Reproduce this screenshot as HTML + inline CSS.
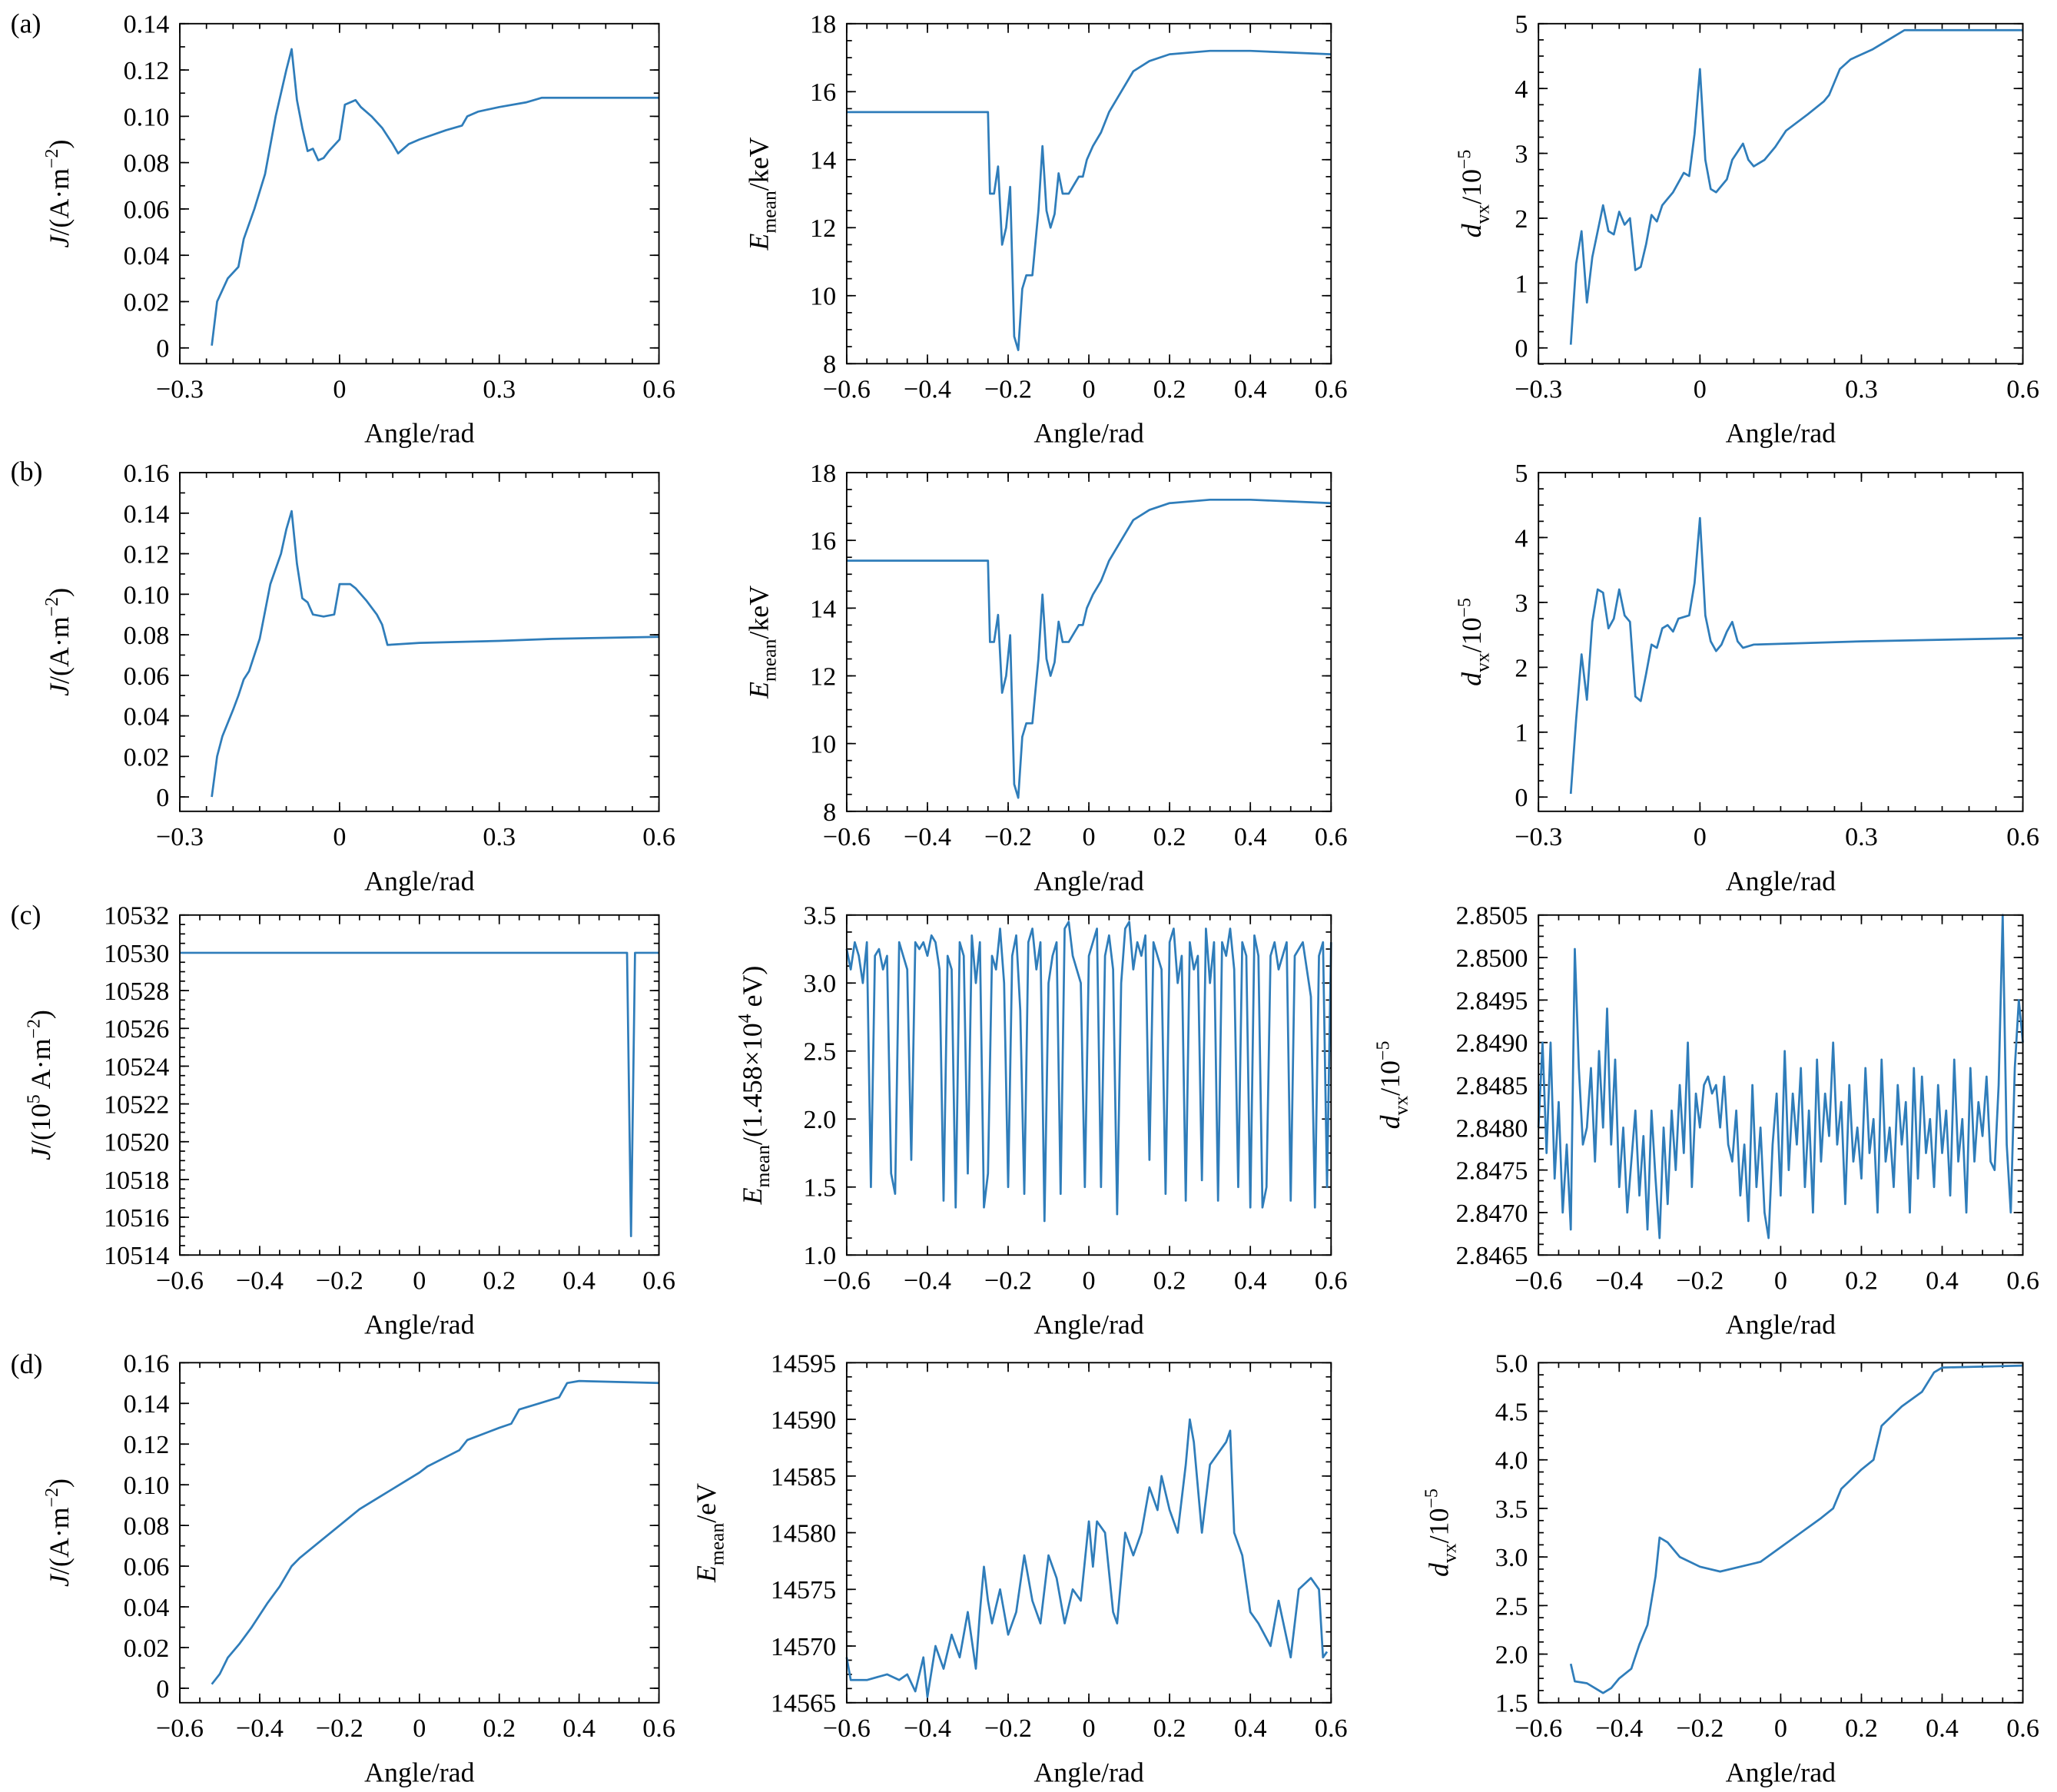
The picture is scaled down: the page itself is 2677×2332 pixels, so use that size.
<!DOCTYPE html>
<html><head><meta charset="utf-8"><style>
html,body{margin:0;padding:0;background:#fff;}
svg{display:block;}
text{font-family:"Liberation Serif","DejaVu Serif",serif;fill:#000;}
</style></head>
<body>
<svg id="fig" xmlns="http://www.w3.org/2000/svg" width="2677" height="2332" viewBox="0 0 1567 1365">
<rect width="1567" height="1365" fill="#fff"/>
</svg>
<script>
// ---------- DATA ----------
const a1X=[-0.24,-0.23,-0.21,-0.19,-0.18,-0.16,-0.14,-0.12,-0.11,-0.1,-0.09,-0.08,-0.07,-0.06,-0.05,-0.04,-0.03,-0.02,0,0.01,0.02,0.03,0.04,0.06,0.08,0.1,0.11,0.13,0.15,0.2,0.23,0.24,0.26,0.3,0.35,0.38,0.45,0.6];
const a1Y=[0.001,0.02,0.03,0.035,0.047,0.06,0.075,0.1,0.11,0.12,0.129,0.107,0.095,0.085,0.086,0.081,0.082,0.085,0.09,0.105,0.106,0.107,0.104,0.1,0.095,0.088,0.084,0.088,0.09,0.094,0.096,0.1,0.102,0.104,0.106,0.108,0.108,0.108];
const eX=[-0.6,-0.25,-0.245,-0.235,-0.225,-0.215,-0.205,-0.195,-0.185,-0.175,-0.165,-0.155,-0.14,-0.125,-0.115,-0.105,-0.095,-0.085,-0.075,-0.065,-0.05,-0.035,-0.025,-0.015,-0.005,0.01,0.03,0.05,0.08,0.11,0.15,0.2,0.3,0.4,0.5,0.6];
const eY=[15.4,15.4,13.0,13.0,13.8,11.5,12.0,13.2,8.8,8.4,10.2,10.6,10.6,12.5,14.4,12.5,12.0,12.4,13.6,13.0,13.0,13.3,13.5,13.5,14.0,14.4,14.8,15.4,16.0,16.6,16.9,17.1,17.2,17.2,17.15,17.1];
const a3X=[-0.24,-0.23,-0.22,-0.21,-0.2,-0.19,-0.18,-0.17,-0.16,-0.15,-0.14,-0.13,-0.12,-0.11,-0.1,-0.09,-0.08,-0.07,-0.06,-0.05,-0.04,-0.03,-0.02,-0.01,0,0.01,0.02,0.03,0.05,0.06,0.08,0.09,0.1,0.12,0.14,0.16,0.2,0.23,0.24,0.26,0.28,0.32,0.36,0.38,0.5,0.6];
const a3Y=[0.05,1.3,1.8,0.7,1.4,1.8,2.2,1.8,1.75,2.1,1.9,2.0,1.2,1.25,1.6,2.05,1.95,2.2,2.3,2.4,2.55,2.7,2.65,3.3,4.3,2.9,2.45,2.4,2.6,2.9,3.15,2.9,2.8,2.9,3.1,3.35,3.6,3.8,3.9,4.3,4.45,4.6,4.8,4.9,4.9,4.9];
const b1X=[-0.24,-0.23,-0.22,-0.2,-0.19,-0.18,-0.17,-0.15,-0.13,-0.11,-0.1,-0.09,-0.08,-0.07,-0.06,-0.05,-0.03,-0.01,0,0.02,0.03,0.05,0.07,0.08,0.09,0.15,0.3,0.4,0.6];
const b1Y=[0,0.02,0.03,0.043,0.05,0.058,0.062,0.078,0.105,0.12,0.132,0.141,0.115,0.098,0.096,0.09,0.089,0.09,0.105,0.105,0.103,0.097,0.09,0.085,0.075,0.076,0.077,0.078,0.079];
const b3X=[-0.24,-0.23,-0.22,-0.21,-0.2,-0.19,-0.18,-0.17,-0.16,-0.15,-0.14,-0.13,-0.12,-0.11,-0.1,-0.09,-0.08,-0.07,-0.06,-0.05,-0.04,-0.02,-0.01,0,0.01,0.02,0.03,0.04,0.05,0.06,0.07,0.08,0.1,0.3,0.6];
const b3Y=[0.05,1.2,2.2,1.5,2.7,3.2,3.15,2.6,2.75,3.2,2.8,2.7,1.55,1.48,1.9,2.35,2.3,2.6,2.65,2.55,2.75,2.8,3.3,4.3,2.8,2.4,2.25,2.35,2.55,2.7,2.4,2.3,2.35,2.4,2.45];
const c1X=[-0.6,0.52,0.53,0.54,0.6];
const c1Y=[10530,10530,10515,10530,10530];
const c2Y=[3.25,3.1,3.3,3.2,3.0,3.3,1.5,3.2,3.25,3.1,3.2,1.6,1.45,3.3,3.2,3.1,1.7,3.3,3.25,3.3,3.2,3.35,3.3,3.1,1.4,3.2,3.1,1.35,3.3,3.2,1.6,3.35,3.0,3.3,1.35,1.6,3.2,3.1,3.4,3.0,1.5,3.2,3.35,2.8,1.45,3.3,3.4,3.1,3.3,1.25,3.0,3.2,3.3,1.45,3.4,3.45,3.2,3.1,3.0,1.5,3.2,3.3,3.4,1.5,3.2,3.35,3.1,1.3,3.0,3.4,3.45,3.1,3.3,3.2,3.35,1.7,3.3,3.2,3.1,1.45,3.3,3.4,3.0,3.2,1.4,3.3,3.1,3.2,1.55,3.4,3.0,3.3,1.4,3.3,3.2,3.4,3.1,1.5,3.3,3.2,1.35,3.35,3.2,1.35,1.5,3.2,3.3,3.1,3.2,3.3,1.4,3.2,3.25,3.3,3.1,2.9,1.35,3.2,3.3,1.5,3.3];
const c3Y=[2.8480,2.8490,2.8477,2.8490,2.8474,2.8483,2.8470,2.8478,2.8468,2.8501,2.8487,2.8478,2.8480,2.8487,2.8476,2.8489,2.8480,2.8494,2.8478,2.8488,2.8473,2.8480,2.8470,2.8476,2.8482,2.8472,2.8479,2.8468,2.8482,2.8474,2.8467,2.8480,2.8471,2.8482,2.8475,2.8485,2.8477,2.8490,2.8473,2.8484,2.8480,2.8485,2.8486,2.8484,2.8485,2.8480,2.8486,2.8478,2.8476,2.8482,2.8472,2.8478,2.8469,2.8485,2.8473,2.8480,2.8470,2.8467,2.8478,2.8484,2.8472,2.8489,2.8475,2.8484,2.8478,2.8487,2.8473,2.8482,2.8470,2.8488,2.8476,2.8484,2.8479,2.8490,2.8478,2.8483,2.8471,2.8485,2.8476,2.8480,2.8474,2.8487,2.8477,2.8481,2.8470,2.8488,2.8476,2.8480,2.8473,2.8485,2.8478,2.8483,2.8470,2.8487,2.8474,2.8486,2.8477,2.8481,2.8473,2.8485,2.8477,2.8482,2.8472,2.8488,2.8476,2.8481,2.8470,2.8487,2.8476,2.8483,2.8479,2.8486,2.8476,2.8475,2.8485,2.8505,2.8478,2.8470,2.8487,2.8495,2.8490];
const d1X=[-0.52,-0.5,-0.48,-0.45,-0.42,-0.4,-0.38,-0.35,-0.32,-0.3,-0.25,-0.2,-0.15,-0.1,-0.05,0,0.02,0.1,0.12,0.2,0.23,0.25,0.3,0.35,0.37,0.4,0.6];
const d1Y=[0.002,0.007,0.015,0.022,0.03,0.036,0.042,0.05,0.06,0.064,0.072,0.08,0.088,0.094,0.1,0.106,0.109,0.117,0.122,0.128,0.13,0.137,0.14,0.143,0.15,0.151,0.15];
const d2X=[-0.6,-0.59,-0.58,-0.55,-0.5,-0.47,-0.45,-0.43,-0.41,-0.4,-0.38,-0.36,-0.34,-0.32,-0.3,-0.28,-0.27,-0.26,-0.25,-0.24,-0.22,-0.2,-0.18,-0.16,-0.14,-0.12,-0.1,-0.08,-0.06,-0.04,-0.02,0,0.01,0.02,0.04,0.06,0.07,0.09,0.11,0.13,0.15,0.17,0.18,0.2,0.22,0.24,0.25,0.26,0.28,0.3,0.32,0.34,0.35,0.36,0.38,0.4,0.42,0.45,0.47,0.5,0.52,0.55,0.57,0.58,0.59];
const d2Y=[14569,14567,14567,14567,14567.5,14567,14567.5,14566,14569,14565.5,14570,14568,14571,14569,14573,14568,14573,14577,14574,14572,14575,14571,14573,14578,14574,14572,14578,14576,14572,14575,14574,14581,14577,14581,14580,14573,14572,14580,14578,14580,14584,14582,14585,14582,14580,14586,14590,14588,14580,14586,14587,14588,14589,14580,14578,14573,14572,14570,14574,14569,14575,14576,14575,14569,14569.5];
const d3X=[-0.52,-0.51,-0.48,-0.46,-0.44,-0.42,-0.4,-0.37,-0.35,-0.33,-0.31,-0.3,-0.28,-0.25,-0.2,-0.15,-0.1,-0.05,0,0.05,0.1,0.13,0.15,0.2,0.23,0.25,0.3,0.35,0.38,0.4,0.6];
const d3Y=[1.9,1.72,1.7,1.65,1.6,1.65,1.75,1.85,2.1,2.3,2.8,3.2,3.15,3.0,2.9,2.85,2.9,2.95,3.1,3.25,3.4,3.5,3.7,3.9,4.0,4.35,4.55,4.7,4.9,4.95,4.97];

// ---------- LAYOUT ----------
const NS='http://www.w3.org/2000/svg';
const svg=document.getElementById('fig');
const COLS=[[137,502],[645,1014],[1172,1541]];
const ROWS=[[18,277],[360,618],[697,956],[1038,1297]];
function mk(tag,attrs,parent){const e=document.createElementNS(NS,tag);for(const k in attrs)e.setAttribute(k,attrs[k]);(parent||svg).appendChild(e);return e;}
function seqX(n,a,b){const r=[];for(let i=0;i<n;i++)r.push(a+(b-a)*i/(n-1));return r;}
const fmt=(v,d)=>{let s=v.toFixed(d);if(Math.abs(v)<1e-12)s='0';return s.replace('-','\u2212');};

function panel(name,r,c,o){
  const [x0,x1]=COLS[c],[y0,y1]=ROWS[r];
  const g=mk('g',{});
  
  
  const [xa,xb]=o.xlim;const [yb0,ya]=[o.ylim[0],o.ylim[1]];
  const sx=v=>x0+(v-xa)/(xb-xa)*(x1-x0);
  const sy=v=>y1-(v-yb0)/(ya-yb0)*(y1-y0);
  // ticks
  const tk=mk('g',{stroke:'#000','stroke-width':1},g);
  
  
  const eps=1e-9;
  o.xt.forEach(v=>{const X=sx(v);mk('line',{x1:X,x2:X,y1:y1,y2:y1-7},tk);mk('line',{x1:X,x2:X,y1:y0,y2:y0+7},tk);
    const t=mk('text',{x:X,y:y1+26,'text-anchor':'middle','font-size':20},g);t.textContent=fmt(v,o.xd);
    });
  if(o.xm){for(let v=xa;v<=xb+eps;v+=o.xm){const X=sx(v);if(X<x0-0.5||X>x1+0.5)continue;mk('line',{x1:X,x2:X,y1:y1,y2:y1-4},tk);mk('line',{x1:X,x2:X,y1:y0,y2:y0+4},tk);}}
  o.yt.forEach(v=>{const Y=sy(v);mk('line',{x1:x0,x2:x0+7,y1:Y,y2:Y},tk);mk('line',{x1:x1,x2:x1-7,y1:Y,y2:Y},tk);
    const t=mk('text',{x:x0-8,y:Y+7,'text-anchor':'end','font-size':20},g);t.textContent=fmt(v,o.yd);
    });
  if(o.ym){const st=o.yt[0];for(let v=st-10*o.ym;v<=ya+eps;v+=o.ym){const Y=sy(v);if(Y<y0-0.5||Y>y1+0.5)continue;mk('line',{x1:x0,x2:x0+4,y1:Y,y2:Y},tk);mk('line',{x1:x1,x2:x1-4,y1:Y,y2:Y},tk);}}
  // series
  const d=o.x.map((v,i)=>(i?'L':'M')+sx(v).toFixed(2)+','+sy(o.y[i]).toFixed(2)).join('');
  const p=mk('path',{d:d,fill:'none',stroke:'#2f7dba','stroke-width':1.6,'stroke-linejoin':'round'},g);
  
  
  const fr=mk('rect',{x:x0,y:y0,width:x1-x0,height:y1-y0,fill:'none',stroke:'#000','stroke-width':1.1},g);
  
  
  const xl=mk('text',{x:(x0+x1)/2,y:y1+60,'text-anchor':'middle','font-size':21},g);xl.textContent='Angle/rad';
  
  const yl=mk('text',{transform:`translate(${o.ylx},${(y0+y1)/2}) rotate(-90)`,'text-anchor':'middle','font-size':21},g);
  yl.innerHTML=o.yl;
  
}
const JL='<tspan font-style="italic">J</tspan>/(A·m<tspan dy="-8" font-size="14">−2</tspan><tspan dy="8">)</tspan>';
const EL='<tspan font-style="italic">E</tspan><tspan dy="6" font-size="15">mean</tspan><tspan dy="-6">/keV</tspan>';
const DL='<tspan font-style="italic">d</tspan><tspan dy="6" font-size="15">vx</tspan><tspan dy="-6">/10</tspan><tspan dy="-8" font-size="14">−5</tspan>';
const cX=seqX(c2Y.length,-0.6,0.6), c3X=seqX(c3Y.length,-0.6,0.6);
const xS=[-0.3,0,0.3,0.6], xL=[-0.6,-0.4,-0.2,0,0.2,0.4,0.6];
const j14=[0,0.02,0.04,0.06,0.08,0.10,0.12,0.14], j16=[0,0.02,0.04,0.06,0.08,0.10,0.12,0.14,0.16];
panel('panel-a-current',0,0,{xlim:[-0.3,0.6],ylim:[-0.0068,0.14],xt:xS,xd:1,xm:0.05,yt:j14,yd:2,ym:0.01,x:a1X,y:a1Y,yl:JL,ylx:52});
panel('panel-a-energy',0,1,{xlim:[-0.6,0.6],ylim:[8,18],xt:xL,xd:1,xm:0.05,yt:[8,10,12,14,16,18],yd:0,ym:0.5,x:eX,y:eY,yl:EL,ylx:585});
panel('panel-a-divergence',0,2,{xlim:[-0.3,0.6],ylim:[-0.243,5],xt:xS,xd:1,xm:0.05,yt:[0,1,2,3,4,5],yd:0,ym:0.25,x:a3X,y:a3Y,yl:DL,ylx:1128});
panel('panel-b-current',1,0,{xlim:[-0.3,0.6],ylim:[-0.0071,0.16],xt:xS,xd:1,xm:0.05,yt:j16,yd:2,ym:0.01,x:b1X,y:b1Y,yl:JL,ylx:52});
panel('panel-b-energy',1,1,{xlim:[-0.6,0.6],ylim:[8,18],xt:xL,xd:1,xm:0.05,yt:[8,10,12,14,16,18],yd:0,ym:0.5,x:eX,y:eY.map(v=>v),yl:EL,ylx:585});
panel('panel-b-divergence',1,2,{xlim:[-0.3,0.6],ylim:[-0.22,5],xt:xS,xd:1,xm:0.05,yt:[0,1,2,3,4,5],yd:0,ym:0.25,x:b3X,y:b3Y,yl:DL,ylx:1128});
panel('panel-c-current',2,0,{xlim:[-0.6,0.6],ylim:[10514,10532],xt:xL,xd:1,xm:0.05,yt:[10514,10516,10518,10520,10522,10524,10526,10528,10530,10532],yd:0,ym:0.5,x:c1X,y:c1Y,yl:'<tspan font-style="italic">J</tspan>/(10<tspan dy="-8" font-size="14">5</tspan><tspan dy="8"> A·m</tspan><tspan dy="-8" font-size="14">−2</tspan><tspan dy="8">)</tspan>',ylx:38});
panel('panel-c-energy',2,1,{xlim:[-0.6,0.6],ylim:[1.0,3.5],xt:xL,xd:1,xm:0.05,yt:[1.0,1.5,2.0,2.5,3.0,3.5],yd:1,ym:0.125,x:cX,y:c2Y,yl:'<tspan font-style="italic">E</tspan><tspan dy="6" font-size="15">mean</tspan><tspan dy="-6">/(1.458×10</tspan><tspan dy="-8" font-size="14">4</tspan><tspan dy="8"> eV)</tspan>',ylx:580});
panel('panel-c-divergence',2,2,{xlim:[-0.6,0.6],ylim:[2.8465,2.8505],xt:xL,xd:1,xm:0.05,yt:[2.8465,2.8470,2.8475,2.8480,2.8485,2.8490,2.8495,2.8500,2.8505],yd:4,ym:0.000125,x:c3X,y:c3Y,yl:DL,ylx:1066});
panel('panel-d-current',3,0,{xlim:[-0.6,0.6],ylim:[-0.0071,0.16],xt:xL,xd:1,xm:0.05,yt:j16,yd:2,ym:0.01,x:d1X,y:d1Y,yl:JL,ylx:52});
panel('panel-d-energy',3,1,{xlim:[-0.6,0.6],ylim:[14565,14595],xt:xL,xd:1,xm:0.05,yt:[14565,14570,14575,14580,14585,14590,14595],yd:0,ym:1.25,x:d2X,y:d2Y,yl:'<tspan font-style="italic">E</tspan><tspan dy="6" font-size="15">mean</tspan><tspan dy="-6">/eV</tspan>',ylx:545});
panel('panel-d-divergence',3,2,{xlim:[-0.6,0.6],ylim:[1.5,5.0],xt:xL,xd:1,xm:0.05,yt:[1.5,2.0,2.5,3.0,3.5,4.0,4.5,5.0],yd:1,ym:0.125,x:d3X,y:d3Y,yl:DL,ylx:1103});
[['(a)',25],['(b)',366],['(c)',704],['(d)',1046]].forEach(([s,y])=>{const t=mk('text',{x:8,y:y,'font-size':21});t.textContent=s;
  
  });
</script>
</body></html>
